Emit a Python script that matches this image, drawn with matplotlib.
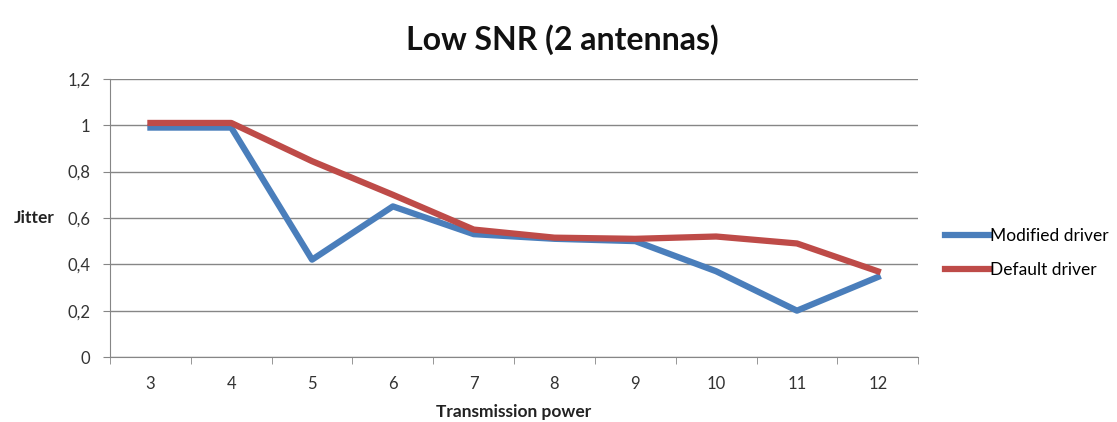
import matplotlib.pyplot as plt
import numpy as np

power = [3, 4, 5, 6, 7, 8, 9, 10, 11, 12]
modified = [0.99, 0.99, 0.42, 0.65, 0.53, 0.51, 0.50, 0.37, 0.20, 0.345]
default = [1.01, 1.01, 0.845, 0.70, 0.55, 0.515, 0.51, 0.52, 0.49, 0.37]
yticks = [0, 0.2, 0.4, 0.6, 0.8, 1.0, 1.2]
ytick_labels = ["0", "0,2", "0,4", "0,6", "0,8", "1", "1,2"]

plt.rcParams['font.family'] = ['Lato', 'DejaVu Sans']

fig = plt.figure(figsize=(11.17, 4.22), dpi=100)
ax = fig.add_axes([0.0985, 0.154, 0.7235, 0.659])

x = np.arange(len(power))
ax.plot(x, modified, color="#4A7EBB", lw=4.5, label="Modified driver")
ax.plot(x, default, color="#BE4B48", lw=4.5, label="Default driver")

ax.set_xlim(-0.5, len(power) - 0.5)
ax.set_ylim(0, 1.2)
ax.set_yticks(yticks)
ax.set_yticklabels(ytick_labels)
ax.set_xticks(x)
ax.set_xticklabels([str(p) for p in power])
ax.set_xticks(np.arange(-0.5, len(power)), minor=True)
ax.tick_params(axis="x", which="major", length=0, pad=14, labelsize=12, labelcolor="#333333")
ax.tick_params(axis="x", which="minor", length=5, color="#868686")
ax.tick_params(axis="y", length=5, color="#868686", labelsize=12, labelcolor="#333333", pad=9)

ax.grid(axis="y", color="#868686", lw=1)
ax.set_axisbelow(True)
for s in ["top", "right"]:
    ax.spines[s].set_visible(False)
for s in ["left", "bottom"]:
    ax.spines[s].set_color("#868686")

fig.text(0.503, 0.905, "Low SNR (2 antennas)", fontsize=23, fontweight="bold",
         ha="center", va="center", color="#111111")
ax.set_xlabel("Transmission power", fontsize=12.5, fontweight="bold", labelpad=8, color="#222222")
ax.set_ylabel("Jitter", fontsize=12.5, fontweight="bold", rotation=0, labelpad=24,
              va="center", color="#222222")

ax.legend(loc="center left", bbox_to_anchor=(1.033, 0.374), frameon=False, fontsize=12.5,
          handlelength=2.6, handletextpad=0.0, labelspacing=1.0, borderaxespad=0,
          borderpad=0)

fig.savefig("out.png", dpi=100)
